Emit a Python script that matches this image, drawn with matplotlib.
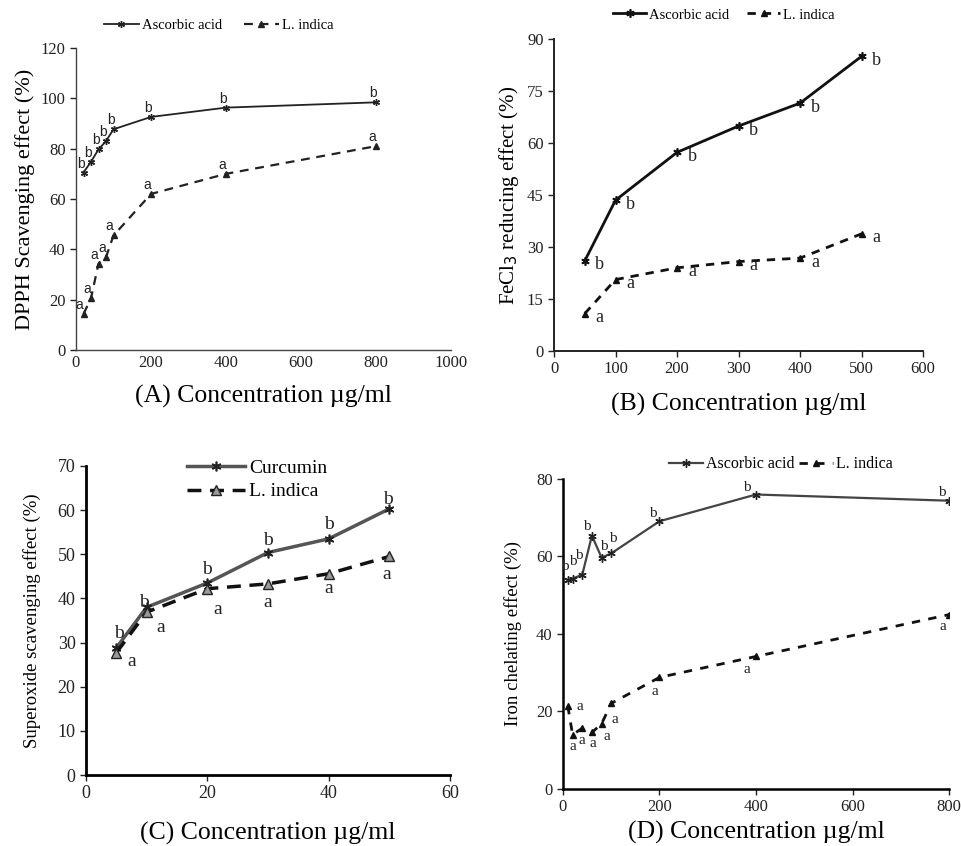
import matplotlib
matplotlib.use("Agg")
import matplotlib.pyplot as plt

plt.rcParams['font.family'] = ['Liberation Serif', 'DejaVu Serif']

# ---- data ----
dpph_x = [20, 40, 60, 80, 100, 200, 400, 800]
dpph_asc = [70.5, 74.8, 79.7, 83.0, 87.7, 92.6, 96.3, 98.4]
dpph_li = [14.3, 20.6, 34.3, 36.9, 45.5, 62.0, 70.0, 81.0]
dpph_asc_lab = ['b'] * 8
dpph_li_lab = ['a'] * 8

fecl_x = [50, 100, 200, 300, 400, 500]
fecl_asc = [26.0, 43.5, 57.3, 64.9, 71.5, 85.0]
fecl_li = [10.8, 20.6, 24.0, 25.8, 26.8, 33.8]
fecl_asc_lab = ['b'] * 6
fecl_li_lab = ['a'] * 6

sup_x = [5, 10, 20, 30, 40, 50]
sup_cur = [28.8, 38.0, 43.5, 50.4, 53.5, 60.3]
sup_li = [27.7, 36.9, 42.2, 43.3, 45.6, 49.5]
sup_cur_lab = ['b'] * 6
sup_li_lab = ['a'] * 6

iron_x = [10, 20, 40, 60, 80, 100, 200, 400, 800]
iron_asc = [54.0, 54.3, 55.3, 65.4, 59.7, 60.8, 69.1, 76.0, 74.4]
iron_li = [21.4, 14.0, 15.7, 14.6, 16.8, 22.1, 28.8, 34.2, 45.0]
iron_asc_lab = ['b'] * 9
iron_li_lab = ['a'] * 9

xlab = 'Concentration \u00b5g/ml'

fig = plt.figure(figsize=(9.62, 8.46), dpi=100)

axA = fig.add_axes([0.079, 0.5863, 0.390, 0.357])
axB = fig.add_axes([0.5759, 0.5851, 0.3836, 0.3688])
axC = fig.add_axes([0.0894, 0.0839, 0.3784, 0.3653])
axD = fig.add_axes([0.5852, 0.0674, 0.4013, 0.3664])

star = (6, 2, 0)


def style(ax, lw, col='black', tsize=10):
    for s in ['top', 'right']:
        ax.spines[s].set_visible(False)
    ax.spines['left'].set_linewidth(lw)
    ax.spines['bottom'].set_linewidth(lw)
    ax.spines['left'].set_color(col)
    ax.spines['bottom'].set_color(col)
    ax.tick_params(direction='out', length=4, width=1, labelsize=tsize, colors='#222222')


def labels(ax, xs, ys, labs, offs, size, fam):
    # offs: per-point (dx, dy) in pixels
    for x, y, t, (dx, dy) in zip(xs, ys, labs, offs):
        ax.annotate(t, (x, y), xytext=(dx * 0.72, dy * 0.72), textcoords='offset points',
                    ha='center', va='center', fontsize=size, family=fam, color='#222222')


# (A) DPPH
axA.plot(dpph_x, dpph_asc, '-', color='#222222', lw=1.3, marker=star, ms=5, mew=1, label='Ascorbic acid')
axA.plot(dpph_x, dpph_li, '--', color='#222222', lw=1.6, marker='^', ms=5, dashes=(4, 3), label='L. indica')
axA.set_xlim(0, 1000)
axA.set_ylim(0, 120)
axA.set_xticks(range(0, 1001, 200))
axA.set_yticks(range(0, 121, 20))
style(axA, 1.0, '#444444', 12)
axA.tick_params(axis='x', length=0)
labels(axA, dpph_x, dpph_asc, dpph_asc_lab, [(-3, 9)] * 8, 10, ['Liberation Sans'])
labels(axA, dpph_x, dpph_li, dpph_li_lab, [(-4, 9)] * 8, 10, ['Liberation Sans'])
axA.set_ylabel('DPPH Scavenging effect (%)', fontsize=16, labelpad=4)
axA.set_xlabel('(A) ' + xlab, fontsize=18.5, labelpad=10)
axA.legend(loc='center', bbox_to_anchor=(0.38, 1.076), ncol=2, frameon=False,
           fontsize=10.5, handlelength=2.4, columnspacing=1.5, handletextpad=0.2)

# (B) FeCl3
axB.plot(fecl_x, fecl_asc, '-', color='#111111', lw=2, marker=star, ms=6, mew=1.2, label='Ascorbic acid')
axB.plot(fecl_x, fecl_li, '--', color='#111111', lw=2, marker='^', ms=5, dashes=(3, 2.5), label='L. indica')
axB.set_xlim(0, 600)
axB.set_ylim(0, 90)
axB.set_xticks(range(0, 601, 100))
axB.set_yticks(range(0, 91, 15))
style(axB, 1.4, '#222222', 12)
labels(axB, fecl_x, fecl_asc, fecl_asc_lab, [(15, -4)] * 6, 13, ['Liberation Serif'])
labels(axB, fecl_x, fecl_li, fecl_li_lab, [(15, -4)] * 6, 13, ['Liberation Serif'])
axB.set_ylabel('FeCl$_3$ reducing effect (%)', fontsize=15, labelpad=4)
axB.set_xlabel('(B) ' + xlab, fontsize=18.5, labelpad=11)
axB.legend(loc='center', bbox_to_anchor=(0.46, 1.077), ncol=2, frameon=False,
           fontsize=10.5, handlelength=2.3, columnspacing=1.2, handletextpad=0.2)

# (C) Superoxide
axC.plot(sup_x, sup_cur, '-', color='#555555', lw=2.5, marker=star, ms=7, mew=1.2, mec='#222222', label='Curcumin')
axC.plot(sup_x, sup_li, '--', color='#111111', lw=2.5, marker='^', ms=7, mfc='#999999', mec='#222222',
         dashes=(4, 2.5), label='L. indica')
axC.set_xlim(0, 60)
axC.set_ylim(0, 70)
axC.set_xticks(range(0, 61, 20))
axC.set_yticks(range(0, 71, 10))
style(axC, 2.0, 'black', 13)
labels(axC, sup_x, sup_cur, sup_cur_lab,
       [(3, 14), (-3, 5), (0, 13), (0, 12), (0, 14), (-1, 9)], 14, ['Liberation Serif'])
labels(axC, sup_x, sup_li, sup_li_lab,
       [(15, -9), (14, -15), (10, -21), (0, -19), (0, -15), (-3, -18)], 14, ['Liberation Serif'])
axC.set_ylabel('Superoxide scavenging effect (%)', fontsize=13.5, labelpad=12)
axC.set_xlabel('(C) ' + xlab, fontsize=18.5, labelpad=14)
axC.legend(loc='center', bbox_to_anchor=(0.47, 0.955), ncol=1, frameon=False,
           fontsize=14, handlelength=3, handletextpad=0.2, labelspacing=0.3)

# (D) Iron chelating
axD.plot(iron_x, iron_asc, '-', color='#444444', lw=1.6, marker=star, ms=6, mew=1, mec='#222222', label='Ascorbic acid')
axD.plot(iron_x, iron_li, '--', color='#111111', lw=2, marker='^', ms=5, dashes=(3, 3), label='L. indica')
axD.set_xlim(0, 800)
axD.set_ylim(0, 80)
axD.set_xticks(range(0, 801, 200))
axD.set_yticks(range(0, 81, 20))
style(axD, 1.8, 'black', 12)
labels(axD, iron_x, iron_asc, iron_asc_lab,
       [(-3, 13), (0, 17), (-3, 19), (-5, 9), (2, 11), (2, 15), (-7, 8), (-9, 7), (-7, 8)],
       11, ['Liberation Serif'])
labels(axD, iron_x, iron_li, iron_li_lab,
       [(12, 0), (0, -12), (0, -12), (1, -11), (5, -13), (4, -16), (-5, -14), (-9, -13), (-6, -12)],
       11, ['Liberation Serif'])
axD.set_ylabel('Iron chelating effect (%)', fontsize=13.5, labelpad=10)
axD.set_xlabel('(D) ' + xlab, fontsize=18.5, labelpad=4)
axD.legend(loc='center', bbox_to_anchor=(0.565, 1.048), ncol=2, frameon=False,
           fontsize=11.5, handlelength=2.1, columnspacing=0.3, handletextpad=0.2)

fig.savefig('out.png', dpi=100)
